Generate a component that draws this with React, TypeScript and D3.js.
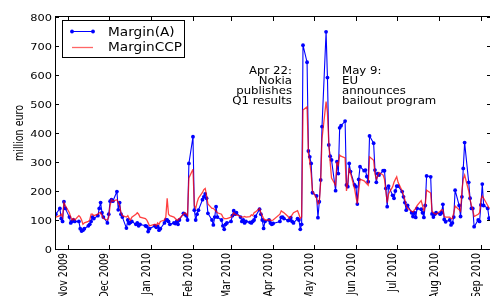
import React, { useRef, useEffect } from 'react';
import * as d3 from 'd3';

// business days, Oct 2009 - Sep 2010
const dates = [
  '2009-10-23', '2009-10-26', '2009-10-27', '2009-10-28', '2009-10-29', '2009-10-30',
  '2009-11-02', '2009-11-03', '2009-11-04', '2009-11-05', '2009-11-06', '2009-11-09', '2009-11-10',
  '2009-11-11', '2009-11-12', '2009-11-13', '2009-11-16', '2009-11-17', '2009-11-18', '2009-11-19',
  '2009-11-20', '2009-11-23', '2009-11-24', '2009-11-25', '2009-11-26', '2009-11-27', '2009-11-30',
  '2009-12-01', '2009-12-02', '2009-12-03', '2009-12-04', '2009-12-07', '2009-12-08', '2009-12-09',
  '2009-12-10', '2009-12-11', '2009-12-14', '2009-12-15', '2009-12-16', '2009-12-17', '2009-12-18',
  '2009-12-21', '2009-12-22', '2009-12-23', '2009-12-24', '2009-12-28', '2009-12-29', '2009-12-30',
  '2009-12-31',
  '2010-01-04', '2010-01-05', '2010-01-06', '2010-01-07', '2010-01-08', '2010-01-11', '2010-01-12',
  '2010-01-13', '2010-01-14', '2010-01-15', '2010-01-18', '2010-01-19', '2010-01-20', '2010-01-21',
  '2010-01-22', '2010-01-25', '2010-01-26', '2010-01-27', '2010-01-28', '2010-01-29',
  '2010-02-01', '2010-02-02', '2010-02-03', '2010-02-04', '2010-02-05', '2010-02-08', '2010-02-09',
  '2010-02-10', '2010-02-11', '2010-02-12', '2010-02-15', '2010-02-16', '2010-02-17', '2010-02-18',
  '2010-02-19', '2010-02-22', '2010-02-23', '2010-02-24', '2010-02-25', '2010-02-26',
  '2010-03-01', '2010-03-02', '2010-03-03', '2010-03-04', '2010-03-05', '2010-03-08', '2010-03-09',
  '2010-03-10', '2010-03-11', '2010-03-12', '2010-03-15', '2010-03-16', '2010-03-17', '2010-03-18',
  '2010-03-19', '2010-03-22', '2010-03-23', '2010-03-24', '2010-03-25', '2010-03-26', '2010-03-29',
  '2010-03-30', '2010-03-31',
  '2010-04-01', '2010-04-06', '2010-04-07', '2010-04-08', '2010-04-09', '2010-04-12', '2010-04-13',
  '2010-04-14', '2010-04-15', '2010-04-16', '2010-04-19', '2010-04-20', '2010-04-21', '2010-04-22',
  '2010-04-23', '2010-04-26', '2010-04-27', '2010-04-28', '2010-04-29', '2010-04-30',
  '2010-05-03', '2010-05-04', '2010-05-05', '2010-05-06', '2010-05-07', '2010-05-10', '2010-05-11',
  '2010-05-12', '2010-05-13', '2010-05-14', '2010-05-17', '2010-05-18', '2010-05-19', '2010-05-20',
  '2010-05-21', '2010-05-24', '2010-05-25', '2010-05-26', '2010-05-27', '2010-05-28', '2010-05-31',
  '2010-06-01', '2010-06-02', '2010-06-03', '2010-06-04', '2010-06-07', '2010-06-08', '2010-06-09',
  '2010-06-10', '2010-06-11', '2010-06-14', '2010-06-15', '2010-06-16', '2010-06-17', '2010-06-18',
  '2010-06-21', '2010-06-22', '2010-06-23', '2010-06-24', '2010-06-25', '2010-06-28', '2010-06-29',
  '2010-06-30',
  '2010-07-01', '2010-07-02', '2010-07-05', '2010-07-06', '2010-07-07', '2010-07-08', '2010-07-09',
  '2010-07-12', '2010-07-13', '2010-07-14', '2010-07-15', '2010-07-16', '2010-07-19', '2010-07-20',
  '2010-07-21', '2010-07-22', '2010-07-23', '2010-07-26', '2010-07-27', '2010-07-28', '2010-07-29',
  '2010-07-30',
  '2010-08-02', '2010-08-03', '2010-08-04', '2010-08-05', '2010-08-06', '2010-08-09', '2010-08-10',
  '2010-08-11', '2010-08-12', '2010-08-13', '2010-08-16', '2010-08-17', '2010-08-18', '2010-08-19',
  '2010-08-20', '2010-08-23', '2010-08-24', '2010-08-25', '2010-08-26', '2010-08-27', '2010-08-30',
  '2010-08-31',
  '2010-09-01', '2010-09-02', '2010-09-03', '2010-09-06', '2010-09-07',
];

const marginA = [
  120, 140, 105, 95, 163, 140,
  110, 90, 95, 100, 95, 95, 70, 62, 65, 70, 80, 85, 95, 110, 105, 115, 140, 160, 125, 110, 90,
  120, 165, 170, 165, 198, 135, 160, 120, 110, 72, 100, 88, 92, 95, 85, 90, 80, 85, 80, 78, 60, 70,
  80, 75, 78, 65, 70, 90, 100, 100, 95, 85, 90, 88, 95, 85, 100, 123, 120, 115, 100, 295,
  387, 134, 100, 120, 134, 170, 180, 190, 175, 123, 100, 83, 110, 146, 110, 100, 80, 68, 85, 90,
  95, 115, 132, 120, 125, 110, 95, 100, 90, 95, 92, 90, 95, 100, 112, 137, 120, 100, 71, 95, 100,
  90, 85,
  88, 95, 109, 110, 105, 98, 100, 108, 95, 90, 105, 100, 68, 85, 703, 644, 338, 318, 295, 194,
  183, 108, 163, 238, 422, 749, 591, 359, 320, 307, 201, 301, 260, 418, 425, 441, 221, 215, 295,
  267, 221,
  215, 155, 240, 284, 270, 272, 250, 232, 390, 365, 272, 230, 260, 255, 270, 270, 209, 146, 217,
  185, 175, 200,
  217, 217, 198, 180, 160, 134, 150, 125, 112, 125, 109, 140, 137, 125, 109, 150, 252, 249, 121,
  110, 120, 125,
  120, 125, 154, 102, 94, 100, 83, 90, 110, 203, 150, 112, 180, 278, 367, 230, 175, 140, 140, 77,
  100, 95,
  152, 224, 150, 140, 106,
];

const marginCCP = [
  110, 115, 120, 110, 160, 150,
  125, 110, 100, 105, 100, 115, 110, 100, 85, 90, 95, 100, 120, 120, 115, 120, 125, 125, 115, 105, 100,
  110, 150, 170, 165, 170, 160, 150, 125, 115, 110, 115, 105, 100, 110, 120, 125, 120, 110, 105, 100, 90, 80,
  85, 80, 90, 85, 95, 100, 110, 175, 120, 115, 110, 105, 100, 100, 105, 120, 125, 120, 115, 245,
  275, 150, 140, 160, 175, 195, 205, 209, 185, 155, 140, 140, 135, 130, 125, 120, 110, 105, 105, 105,
  110, 115, 125, 120, 118, 112, 110, 110, 112, 110, 112, 118, 115, 125, 128, 140, 125, 115, 105, 100, 100,
  100, 98,
  100, 120, 132, 128, 125, 112, 105, 110, 118, 125, 132, 120, 105, 110, 479, 490, 330, 300, 260, 200,
  175, 155, 160, 230, 380, 508, 470, 364, 300, 245, 220, 300, 290, 324, 320, 314, 200, 230, 280,
  262, 207,
  180, 156, 200, 241, 235, 230, 225, 220, 318, 306, 260, 241, 250, 264, 255, 240, 200, 160, 190,
  215, 230, 240,
  249, 230, 200, 185, 170, 150, 140, 130, 128, 135, 140, 150, 167, 150, 130, 150, 203, 193, 130,
  125, 122, 120,
  130, 135, 135, 112, 110, 110, 105, 105, 125, 148, 135, 130, 200, 241, 255, 200, 170, 150, 135, 112,
  120, 125,
  170, 183, 175, 150, 140,
];

const seriesNames = ['Margin(A)', 'MarginCCP'];
const monthTicks = [
  '2009-11-01', '2009-12-01', '2010-01-01', '2010-02-01', '2010-03-01', '2010-04-01',
  '2010-05-01', '2010-06-01', '2010-07-01', '2010-08-01', '2010-09-01',
];
const yTicks = [0, 100, 200, 300, 400, 500, 600, 700, 800];
const noteNokia = ['Apr 22:', 'Nokia', 'publishes', 'Q1 results'];
const noteEU = ['May 9:', 'EU', 'announces', 'bailout program'];

const FONT = 'DejaVu Sans';
const SX = 1.2; // the picture is stretched sideways

const MarginChart: React.FC = () => {
  const svgRef = useRef<SVGSVGElement | null>(null);

  useEffect(() => {
    const width = 490;
    const height = 296;
    const left = 55;
    const right = 491;
    const top = 17;
    const bottom = 249;

    const svg = d3.select(svgRef.current).attr('width', width).attr('height', height);
    svg.selectAll('*').remove();

    const parse = d3.timeParse('%Y-%m-%d');
    const days = dates.map(d => parse(d)!);

    const x = d3
      .scaleTime()
      .domain([new Date(2009, 9, 22, 10), new Date(2010, 8, 8, 10)])
      .range([left, right]);
    const y = d3.scaleLinear().domain([0, 800]).range([bottom, top]);

    const label = (
      px: number,
      py: number,
      str: string,
      anchor: string,
      size: number,
      rotate = false
    ) =>
      svg
        .append('g')
        .attr('transform', `translate(${px},${py}) scale(${SX},1)${rotate ? ' rotate(-90)' : ''}`)
        .append('text')
        .attr('text-anchor', anchor)
        .attr('font-family', FONT)
        .attr('font-size', size)
        .attr('fill', '#000')
        .text(str);

    svg
      .append('defs')
      .append('clipPath')
      .attr('id', 'plot-clip')
      .append('rect')
      .attr('x', left)
      .attr('y', top)
      .attr('width', right - left)
      .attr('height', bottom - top);

    const plot = svg.append('g').attr('clip-path', 'url(#plot-clip)');

    const line = d3
      .line<number>()
      .x((_, i) => x(days[i]))
      .y(v => y(v));

    // Margin(A): blue line with point markers
    plot
      .append('path')
      .attr('d', line(marginA)!)
      .attr('fill', 'none')
      .attr('stroke', '#0000ff')
      .attr('stroke-width', 1.1);
    plot
      .selectAll('circle.a')
      .data(marginA)
      .enter()
      .append('circle')
      .attr('class', 'a')
      .attr('cx', (_, i) => x(days[i]))
      .attr('cy', v => y(v))
      .attr('r', 1.9)
      .attr('fill', '#0000ff');

    // MarginCCP: red line
    plot
      .append('path')
      .attr('d', line(marginCCP)!)
      .attr('fill', 'none')
      .attr('stroke', '#ff0000')
      .attr('stroke-opacity', 0.75)
      .attr('stroke-width', 1.3);

    // frame
    svg
      .append('rect')
      .attr('x', left + 0.5)
      .attr('y', top - 0.5)
      .attr('width', right - left)
      .attr('height', bottom - top + 1)
      .attr('fill', 'none')
      .attr('stroke', '#000')
      .attr('stroke-width', 1);

    // month ticks, top and bottom, pointing in
    monthTicks.forEach(m => {
      const tx = Math.round(x(parse(m)!)) + 0.5;
      svg.append('line').attr('x1', tx).attr('x2', tx).attr('y1', bottom).attr('y2', bottom - 4).attr('stroke', '#000');
      svg.append('line').attr('x1', tx).attr('x2', tx).attr('y1', top).attr('y2', top + 4).attr('stroke', '#000');
      label(tx - 2, 253, d3.timeFormat('%b %Y')(parse(m)!), 'end', 9.5, true);
    });

    yTicks.forEach(v => {
      const ty = Math.round(y(v)) + 0.5;
      svg.append('line').attr('x1', left).attr('x2', left + 4).attr('y1', ty).attr('y2', ty).attr('stroke', '#000');
      svg.append('line').attr('x1', right).attr('x2', right - 4).attr('y1', ty).attr('y2', ty).attr('stroke', '#000');
      label(52, ty + 3.4, String(v), 'end', 9.5);
    });

    label(23, (top + bottom) / 2, 'million euro', 'middle', 9.5, true);

    // annotations
    noteNokia.forEach((s, i) => label(292, 74 + i * 10, s, 'end', 9.8));
    noteEU.forEach((s, i) => label(342, 74 + i * 10, s, 'start', 9.8));

    // legend
    const lg = svg.append('g');
    lg.append('rect')
      .attr('x', 62.5)
      .attr('y', 20.5)
      .attr('width', 122)
      .attr('height', 37)
      .attr('fill', '#fff')
      .attr('stroke', '#000');
    lg.append('line').attr('x1', 72).attr('x2', 93).attr('y1', 31.5).attr('y2', 31.5).attr('stroke', '#0000ff');
    [72, 93].forEach(cx => lg.append('circle').attr('cx', cx).attr('cy', 31.5).attr('r', 1.9).attr('fill', '#0000ff'));
    lg.append('line')
      .attr('x1', 72)
      .attr('x2', 93)
      .attr('y1', 47.5)
      .attr('y2', 47.5)
      .attr('stroke', '#ff0000')
      .attr('stroke-opacity', 0.6)
      .attr('stroke-width', 1.3);
    seriesNames.forEach((s, i) => label(108, 35.8 + i * 15.6, s, 'start', 11.4));
  }, []);

  return <svg ref={svgRef} style={{ position: 'fixed', left: 0, top: 0, display: 'block' }}></svg>;
};

export default function App() {
  return <MarginChart />;
}
